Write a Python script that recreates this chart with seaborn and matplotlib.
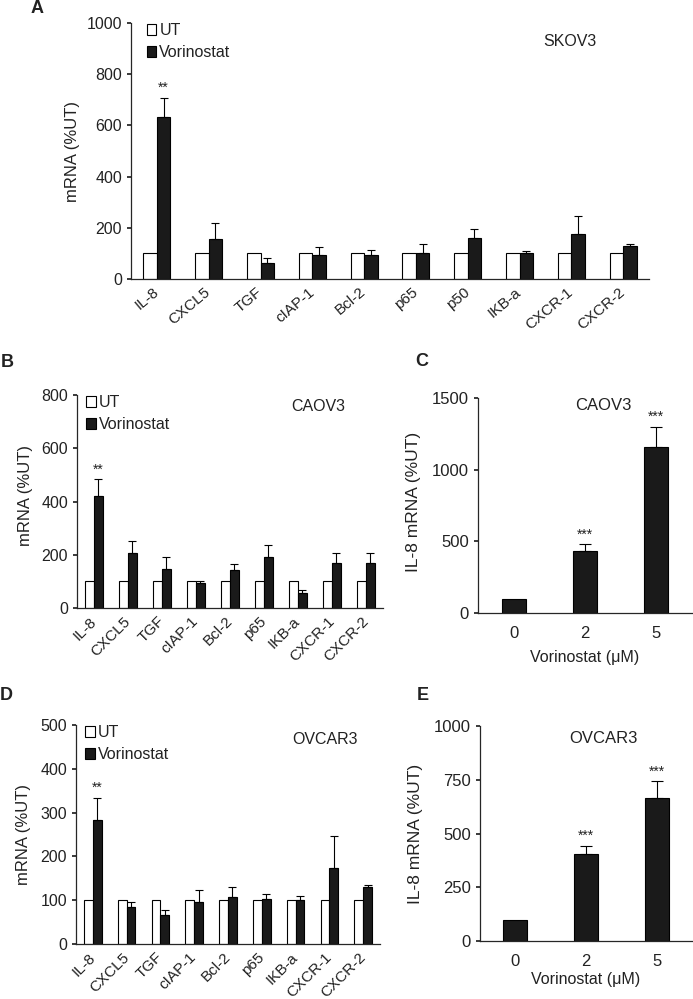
import numpy as np
import pandas as pd
import seaborn as sns
import matplotlib
matplotlib.use('Agg')
import matplotlib.pyplot as plt
from matplotlib.patches import Patch

# Data (UT = 100 % everywhere)
genes_a = ['IL-8', 'CXCL5', 'TGF', 'cIAP-1', 'Bcl-2', 'p65', 'p50', 'IKB-a', 'CXCR-1', 'CXCR-2']
vor_a = [633, 156, 62, 95, 94, 102, 160, 102, 176, 130]
vor_a_err = [74, 63, 20, 31, 21, 35, 37, 9, 71, 7]

genes_bd = ['IL-8', 'CXCL5', 'TGF', 'cIAP-1', 'Bcl-2', 'p65', 'IKB-a', 'CXCR-1', 'CXCR-2']
vor_b = [421, 206, 147, 94, 141, 191, 56, 169, 169]
vor_b_err = [63, 44, 43, 8, 26, 44, 10, 36, 36]
vor_d = [282, 84, 67, 95, 107, 103, 101, 173, 129]
vor_d_err = [52, 11, 11, 28, 22, 12, 8, 74, 6]

dose = ['0', '2', '5']
il8_c = [100, 434, 1155]
il8_c_err = [0, 46, 146]
il8_e = [100, 405, 667]
il8_e_err = [0, 38, 76]

sns.set_theme(style='ticks')
plt.rcParams['font.family'] = ['Liberation Sans', 'DejaVu Sans']
plt.rcParams['text.color'] = '#222222'
plt.rcParams['axes.labelcolor'] = '#222222'
plt.rcParams['xtick.color'] = '#222222'
plt.rcParams['ytick.color'] = '#222222'
plt.rcParams['axes.linewidth'] = 0.9

DARK = '#1a1a1a'
W, H = 693, 999
fig = plt.figure(figsize=(W / 100, H / 100), dpi=100)


def px_axes(left, top, right, bottom):
    return fig.add_axes([left / W, 1 - bottom / H, (right - left) / W, (bottom - top) / H])


def grouped(ax, genes, vor, err, ymax, step, cell, cell_xy, rot, star):
    n = len(genes)
    df = pd.DataFrame({'gene': genes * 2,
                       'group': ['UT'] * n + ['Vorinostat'] * n,
                       'value': [100] * n + vor})
    sns.barplot(data=df, x='gene', y='value', hue='group',
                palette={'UT': 'white', 'Vorinostat': DARK}, saturation=1,
                edgecolor='black', linewidth=0.8, width=0.52, errorbar=None,
                legend=False, ax=ax)
    bars = ax.containers[1]
    xs = [b.get_x() + b.get_width() / 2 for b in bars]
    ax.errorbar(xs, vor, yerr=[np.zeros(n), err], fmt='none', ecolor='black',
                elinewidth=0.8, capsize=3, capthick=0.8)
    ax.annotate(star, (xs[0], vor[0] + err[0]), xytext=(0, 2), textcoords='offset points',
                ha='center', va='bottom', fontsize=10)
    ax.set_xlim(-0.5, n - 0.5)
    ax.set_ylim(0, ymax)
    ax.set_yticks(np.arange(0, ymax + 1, step))
    ax.set_xlabel('')
    ax.set_ylabel('mRNA (%UT)', fontsize=12)
    ax.set_xticks(range(n))
    ax.set_xticklabels(genes, rotation=rot, ha='right', va='center', rotation_mode='anchor')
    ax.tick_params(axis='x', length=0, labelsize=11, pad=8)
    ax.tick_params(axis='y', length=3, labelsize=11.5)
    handles = [Patch(fc='white', ec='black', lw=0.8), Patch(fc=DARK, ec='black', lw=0.8)]
    ax.legend(handles, ['UT', 'Vorinostat'], loc='upper left', bbox_to_anchor=(0.03, 1.0),
              frameon=False, handlelength=0.6, handleheight=0.7, handletextpad=0.2,
              labelspacing=0.45, borderaxespad=0, borderpad=0, fontsize=11.5)
    ax.text(cell_xy[0], cell_xy[1], cell, transform=ax.transAxes, ha='center', va='center',
            fontsize=11.5)
    sns.despine(ax=ax)


def dose_plot(ax, vals, err, ymax, ticks, cell, cell_xy, xlabel_y):
    df = pd.DataFrame({'dose': dose, 'value': vals})
    sns.barplot(data=df, x='dose', y='value', color=DARK, saturation=1, edgecolor='black',
                linewidth=0.8, width=0.34, errorbar=None, ax=ax)
    xs = [b.get_x() + b.get_width() / 2 for b in ax.containers[0]]
    ax.errorbar(xs[1:], vals[1:], yerr=[np.zeros(2), err[1:]], fmt='none', ecolor='black',
                elinewidth=0.8, capsize=4, capthick=0.8)
    for x, v, e in zip(xs[1:], vals[1:], err[1:]):
        ax.annotate('***', (x, v + e), xytext=(0, 2), textcoords='offset points',
                    ha='center', va='bottom', fontsize=10)
    ax.set_xlim(-0.5, 2.5)
    ax.set_ylim(0, ymax)
    ax.set_yticks(ticks)
    ax.set_ylabel('IL-8 mRNA (%UT)', fontsize=12.5)
    ax.set_xlabel('Vorinostat (\u03bcM)', fontsize=11.5)
    ax.xaxis.set_label_coords(0.5, xlabel_y)
    ax.tick_params(axis='x', length=0, labelsize=12, pad=9)
    ax.tick_params(axis='y', length=3, labelsize=12)
    ax.text(cell_xy[0], cell_xy[1], cell, transform=ax.transAxes, ha='center', va='center',
            fontsize=12)
    sns.despine(ax=ax)


ax_a = px_axes(131, 23, 649, 279)
grouped(ax_a, genes_a, vor_a, vor_a_err, 1000, 200, 'SKOV3', (0.847, 0.926), 40, '**')
ax_a.yaxis.set_label_coords(-0.098, 0.5)

ax_b = px_axes(77, 395, 383, 608)
grouped(ax_b, genes_bd, vor_b, vor_b_err, 800, 200, 'CAOV3', (0.788, 0.944), 45, '**')
ax_b.yaxis.set_label_coords(-0.144, 0.53)

ax_c = px_axes(478, 398, 692, 613)
dose_plot(ax_c, il8_c, il8_c_err, 1500, [0, 500, 1000, 1500], 'CAOV3', (0.584, 0.967), -0.172)
ax_c.yaxis.set_label_coords(-0.265, 0.516)

ax_d = px_axes(76, 725, 380, 944)
grouped(ax_d, genes_bd, vor_d, vor_d_err, 500, 100, 'OVCAR3', (0.819, 0.936), 45, '**')
ax_d.yaxis.set_label_coords(-0.148, 0.5)

ax_e = px_axes(480, 726, 692, 941)
dose_plot(ax_e, il8_e, il8_e_err, 1000, [0, 250, 500, 750, 1000], 'OVCAR3', (0.58, 0.94), -0.144)
ax_e.yaxis.set_label_coords(-0.27, 0.5)

for lbl, x, y in [('A', 31, 13), ('B', 1, 367), ('C', 415, 366), ('D', 0, 700), ('E', 417, 700)]:
    fig.text(x / W, 1 - y / H, lbl, fontsize=13, fontweight='bold', ha='left', va='baseline')

fig.savefig('out.png', dpi=100)
